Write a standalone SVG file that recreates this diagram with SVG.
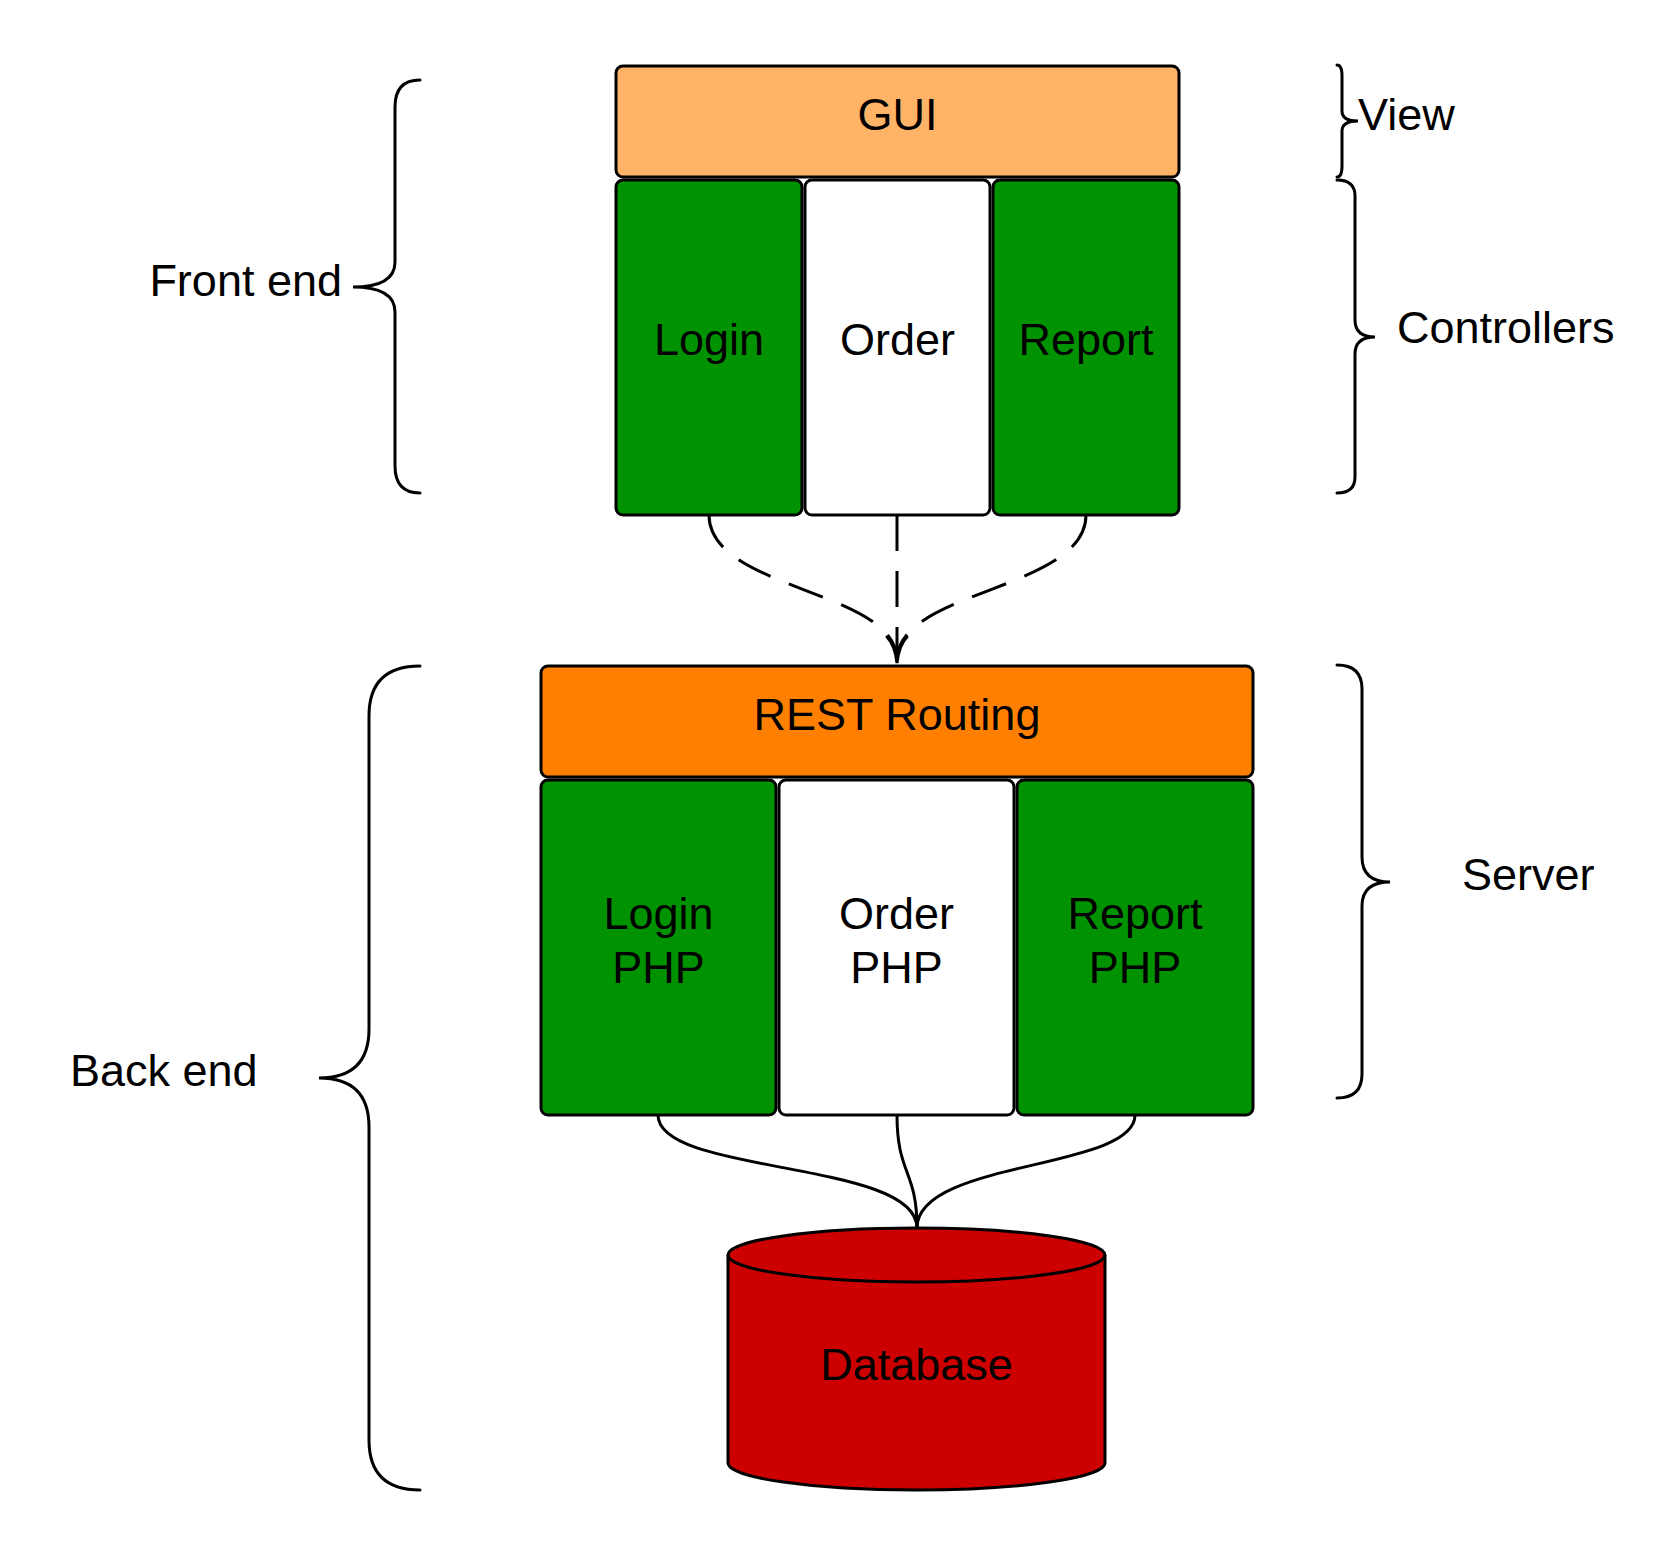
<svg xmlns="http://www.w3.org/2000/svg" width="1677" height="1549" viewBox="0 0 1677 1549">
<style>
.box{stroke:#000;stroke-width:3;}
.t{font-family:"Liberation Sans",Arial,sans-serif;font-size:45px;fill:#000;}
.c{text-anchor:middle;}
.brace{fill:none;stroke:#000;stroke-width:3;stroke-linecap:round;}
.dash{fill:none;stroke:#000;stroke-width:3;stroke-dasharray:36 20;}
.line{fill:none;stroke:#000;stroke-width:3;}
</style>
<rect width="1677" height="1549" fill="#fff"/>

<g id="connectors">
<path class="dash" d="M709,515 C709,590 897,590 897,660"/>
<path class="dash" d="M897,515 L897,660"/>
<path class="dash" d="M1086,515 C1086,590 897,590 897,660"/>
<path class="line" d="M887,637 Q895,645 897,663 Q899,645 907,637" stroke-linecap="round"/>
<path class="line" d="M658,1115 C658,1175 917,1160 917,1228"/>
<path class="line" d="M897,1115 C897,1175 917,1170 917,1228"/>
<path class="line" d="M1135,1115 C1135,1170 917,1160 917,1228"/>
</g>

<g id="gui"><rect class="box" x="616" y="66" width="563" height="111" rx="7" fill="#FFB366"/><text class="t c" x="897.5" y="130">GUI</text></g>
<g id="login"><rect class="box" x="616" y="180" width="186" height="335" rx="7" fill="#009200"/><text class="t c" x="709" y="355">Login</text></g>
<g id="order"><rect class="box" x="805" y="180" width="185" height="335" rx="7" fill="#fff"/><text class="t c" x="897.5" y="355">Order</text></g>
<g id="report"><rect class="box" x="993" y="180" width="186" height="335" rx="7" fill="#009200"/><text class="t c" x="1086" y="355">Report</text></g>

<g id="rest"><rect class="box" x="541" y="666" width="712" height="111" rx="7" fill="#FF8000"/><text class="t c" x="897" y="730">REST Routing</text></g>
<g id="loginphp"><rect class="box" x="541" y="780" width="235" height="335" rx="7" fill="#009200"/><text class="t c" x="658.5" y="929">Login</text><text class="t c" x="658.5" y="983">PHP</text></g>
<g id="orderphp"><rect class="box" x="779" y="780" width="235" height="335" rx="7" fill="#fff"/><text class="t c" x="896.5" y="929">Order</text><text class="t c" x="896.5" y="983">PHP</text></g>
<g id="reportphp"><rect class="box" x="1017" y="780" width="236" height="335" rx="7" fill="#009200"/><text class="t c" x="1135" y="929">Report</text><text class="t c" x="1135" y="983">PHP</text></g>

<g id="database">
<path class="box" d="M728,1255 A188.5,27 0 0 1 1105,1255 L1105,1463 A188.5,27 0 0 1 728,1463 Z" fill="#CC0000"/>
<path class="box" d="M728,1255 A188.5,27 0 0 0 1105,1255" fill="none"/>
<text class="t c" x="916.5" y="1380">Database</text>
</g>

<g id="frontend">
<path class="brace" d="M420,80 Q395,80 395,107 L395,262 Q395,287 353,287 Q395,287 395,312 L395,466 Q395,493 420,493"/>
<text class="t" x="342" y="296" text-anchor="end">Front end</text>
</g>
<g id="backend">
<path class="brace" d="M420,666 Q369,666 369,716 L369,1029 Q369,1078 319,1078 Q369,1078 369,1127 L369,1440 Q369,1490 420,1490"/>
<text class="t" x="70" y="1086">Back end</text>
</g>
<g id="view">
<path class="brace" d="M1337,65 Q1342,65 1342,76 L1342,111 Q1342,121 1358,121 Q1342,121 1342,131 L1342,166 Q1342,177 1337,177"/>
<text class="t" x="1358" y="130">View</text>
</g>
<g id="controllers">
<path class="brace" d="M1337,180 Q1355,180 1355,196 L1355,320 Q1355,337 1375,337 Q1355,337 1355,354 L1355,477 Q1355,493 1337,493"/>
<text class="t" x="1397" y="343">Controllers</text>
</g>
<g id="server">
<path class="brace" d="M1337,665 Q1362,665 1362,689 L1362,857 Q1362,882 1390,882 Q1362,882 1362,906 L1362,1074 Q1362,1098 1337,1098"/>
<text class="t" x="1462" y="890">Server</text>
</g>
</svg>
